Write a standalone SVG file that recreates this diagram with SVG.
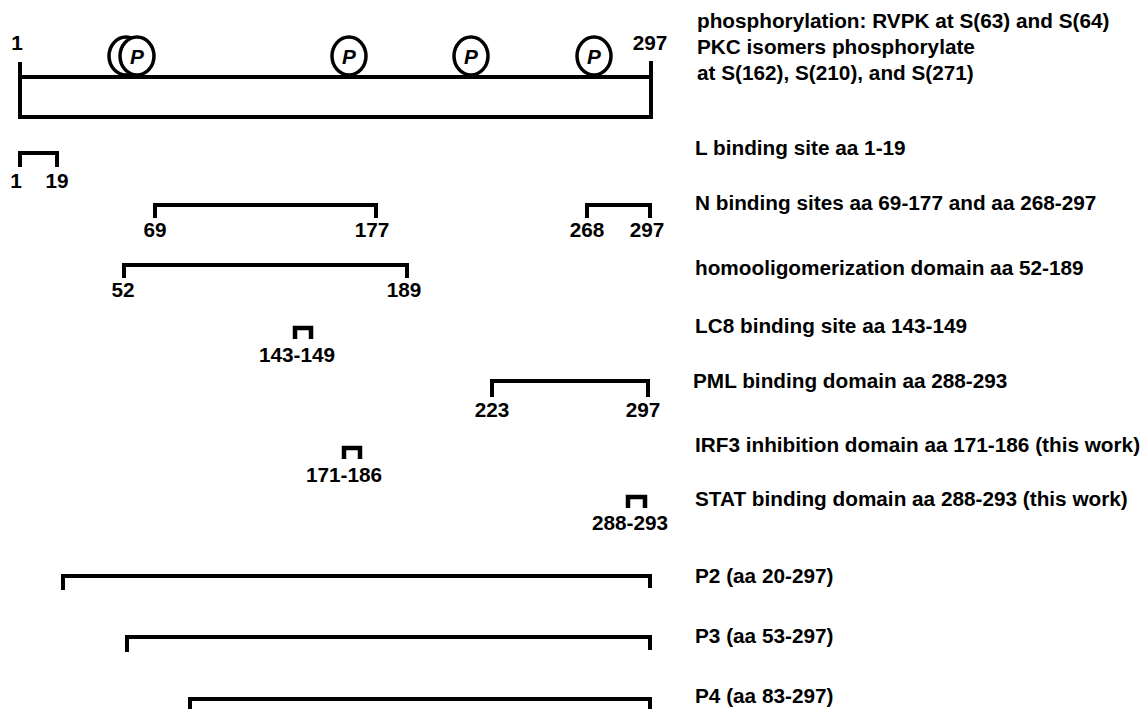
<svg xmlns="http://www.w3.org/2000/svg" width="1146" height="709" viewBox="0 0 1146 709">
<style>
  text { font-family: "Liberation Sans", Arial, sans-serif; font-weight: bold; fill: #000; }
  .lbl { font-size: 20.75px; }
  .num { font-size: 20.75px; text-anchor: middle; }
  .p { font-size: 20.75px; font-style: italic; text-anchor: middle; }
  .br { fill: none; stroke: #000; stroke-width: 4; stroke-linejoin: miter; stroke-linecap: butt; }
  .sbr { fill: none; stroke: #000; stroke-width: 4.5; stroke-linejoin: miter; stroke-linecap: butt; }
  .site { fill: #fff; stroke: #000; stroke-width: 3.5; }
</style>
<rect width="1146" height="709" fill="#fff"/>

<g id="protein">
  <rect x="20" y="77" width="631" height="40" class="br"/>
  <path d="M20,62 V77 M651,61 V77" class="br"/>
  <text class="num" x="17" y="50">1</text>
  <text class="num" x="650" y="50">297</text>
</g>

<g id="phospho-sites">
  <ellipse cx="126" cy="56" rx="17" ry="19" class="site"/>
  <ellipse cx="137" cy="56" rx="17" ry="19" class="site"/>
  <text class="p" x="137" y="64">P</text>
  <ellipse cx="349" cy="56" rx="17" ry="19" class="site"/>
  <text class="p" x="349" y="64">P</text>
  <ellipse cx="471" cy="56" rx="17" ry="19" class="site"/>
  <text class="p" x="471" y="64">P</text>
  <ellipse cx="594" cy="56" rx="17" ry="19" class="site"/>
  <text class="p" x="594" y="64">P</text>
</g>

<g id="phospho-label">
  <text class="lbl" x="697" y="28">phosphorylation: RVPK at S(63) and S(64)</text>
  <text class="lbl" x="697" y="54">PKC isomers phosphorylate</text>
  <text class="lbl" x="697" y="80">at S(162), S(210), and S(271)</text>
</g>

<g id="connectors">
  <path class="br" d="M20,167 V153 H57 V167"/>
  <path class="br" d="M155,218 V205 H376 V218"/>
  <path class="br" d="M587,218 V205 H650 V218"/>
  <path class="br" d="M124,278 V265 H407 V278"/>
  <path class="sbr" d="M295,339 V328 H311 V339"/>
  <path class="br" d="M492,397 V381 H648 V397"/>
  <path class="sbr" d="M344,459 V448 H360 V459"/>
  <path class="sbr" d="M628,508 V497 H645 V508"/>
  <path class="br" d="M63,590 V576 H650 V588"/>
  <path class="br" d="M127,652 V637 H650 V650"/>
  <path class="br" d="M190,709 V699 H650 V709"/>
</g>

<g id="L-site">
  <text class="num" x="16" y="188">1</text>
  <text class="num" x="57" y="188">19</text>
  <text class="lbl" x="695" y="155">L binding site aa 1-19</text>
</g>

<g id="N-sites">
  <text class="num" x="155" y="237">69</text>
  <text class="num" x="372" y="237">177</text>
  <text class="num" x="587" y="237">268</text>
  <text class="num" x="647" y="237">297</text>
  <text class="lbl" x="695" y="210">N binding sites aa 69-177 and aa 268-297</text>
</g>

<g id="homo">
  <text class="num" x="123" y="297">52</text>
  <text class="num" x="404" y="297">189</text>
  <text class="lbl" x="695" y="275">homooligomerization domain aa 52-189</text>
</g>

<g id="LC8">
  <text class="num" x="297" y="362">143-149</text>
  <text class="lbl" x="695" y="333">LC8 binding site aa 143-149</text>
</g>

<g id="PML">
  <text class="num" x="492" y="417">223</text>
  <text class="num" x="643" y="417">297</text>
  <text class="lbl" x="693" y="388">PML binding domain aa 288-293</text>
</g>

<g id="IRF3">
  <text class="num" x="344" y="482">171-186</text>
  <text class="lbl" x="695" y="452">IRF3 inhibition domain aa 171-186 (this work)</text>
</g>

<g id="STAT">
  <text class="num" x="630" y="530">288-293</text>
  <text class="lbl" x="695" y="506">STAT binding domain aa 288-293 (this work)</text>
</g>

<g id="P2"><text class="lbl" x="695" y="583">P2 (aa 20-297)</text></g>
<g id="P3"><text class="lbl" x="695" y="643">P3 (aa 53-297)</text></g>
<g id="P4"><text class="lbl" x="695" y="703">P4 (aa 83-297)</text></g>
</svg>
